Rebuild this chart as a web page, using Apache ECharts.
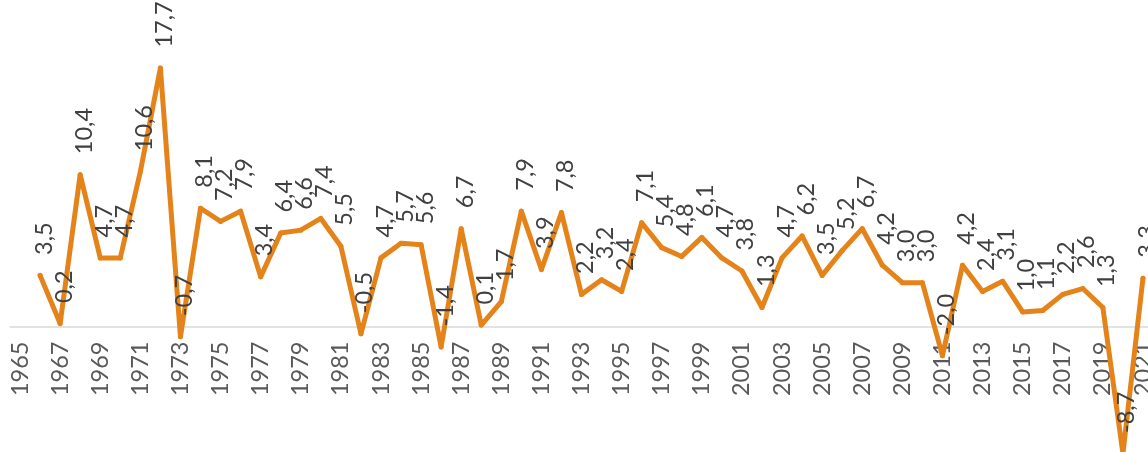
<!DOCTYPE html>
<html>
<head>
<meta charset="utf-8">
<script src="https://cdn.jsdelivr.net/npm/echarts@6/dist/echarts.min.js"></script>
<style>
  html, body { margin: 0; padding: 0; background: #fff; }
  #chart { width: 1148px; height: 452px; }
</style>
</head>
<body>
<div id="chart"></div>
<script>
// years on the category axis
var years = [];
for (var y = 1965; y <= 2021; y++) years.push(String(y));

// growth values, 1965 has no value
var growth = [
    '-', 3.5, 0.2, 10.4, 4.7, 4.7, 10.6, 17.7, -0.7, 8.1,
    7.2, 7.9, 3.4, 6.4, 6.6, 7.4, 5.5, -0.5, 4.7, 5.7,
    5.6, -1.4, 6.7, 0.1, 1.7, 7.9, 3.9, 7.8, 2.2, 3.2,
    2.4, 7.1, 5.4, 4.8, 6.1, 4.7, 3.8, 1.3, 4.7, 6.2,
    3.5, 5.2, 6.7, 4.2, 3.0, 3.0, -2.0, 4.2, 2.4, 3.1,
    1.0, 1.1, 2.2, 2.6, 1.3, -8.7, 3.3
];

var lineColor = '#E5831B';
var fontName = '"Liberation Sans Narrow", Lato, sans-serif';

var chart = echarts.init(document.getElementById('chart'));
var option = {
    animation: false,
    grid: [
        // plot area, runs a little past the canvas like the original
        { left: 10, top: 34.5, width: 1143, height: 438, outerBoundsMode: 'none' },
        // only carries the year labels, its bottom sits on the zero line
        { left: 10, top: 0, width: 1143, height: 326.5, outerBoundsMode: 'none' }
    ],
    xAxis: [
        {
            type: 'category',
            gridIndex: 0,
            data: years,
            axisLine: { onZero: true, lineStyle: { color: '#D9D9D9', width: 1.5 } },
            axisTick: { show: false },
            axisLabel: { show: false }
        },
        {
            type: 'category',
            gridIndex: 1,
            data: years,
            axisLine: { show: false },
            axisTick: { show: false },
            axisLabel: {
                rotate: 90,
                interval: 1,
                margin: 15,
                color: '#595959',
                fontFamily: fontName,
                fontSize: 23.5
            }
        }
    ],
    yAxis: [
        { type: 'value', gridIndex: 0, min: -10, max: 20, show: false },
        { type: 'value', gridIndex: 1, min: 0, max: 1, show: false }
    ],
    series: [
        {
            type: 'line',
            data: growth,
            symbol: 'circle',
            symbolSize: 5,
            showSymbol: true,
            itemStyle: { color: lineColor },
            lineStyle: { color: lineColor, width: 5, join: 'round', cap: 'round' },
            label: {
                show: true,
                position: 'top',
                distance: 18,
                rotate: 90,
                align: 'left',
                verticalAlign: 'middle',
                offset: [0, 4],
                color: '#404040',
                fontFamily: fontName,
                fontSize: 23.5,
                formatter: function (p) {
                    return p.value.toFixed(1).replace('.', ',');
                }
            }
        }
    ]
};
chart.setOption(option);
</script>
</body>
</html>
